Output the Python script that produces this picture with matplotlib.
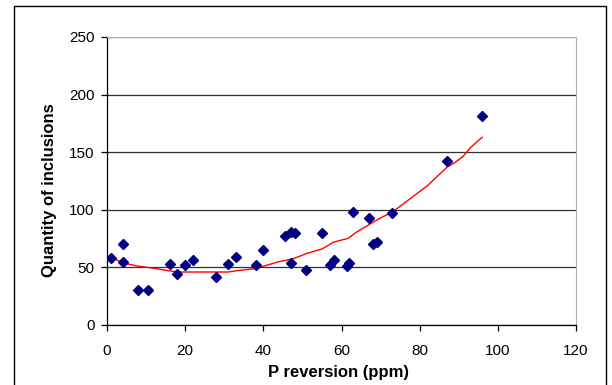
import matplotlib.pyplot as plt
from matplotlib.patches import Rectangle

plt.rcParams['font.family'] = ['Liberation Sans', 'DejaVu Sans']

# measured samples
p_rev = [1, 4, 4, 8, 10.5, 16, 18, 20, 22, 28, 31, 33, 38, 40, 45.5, 47, 48,
         47, 51, 55, 57, 58, 61.5, 62, 63, 67, 68, 69, 73, 87, 96]
inclusions = [58, 70, 55, 30, 30, 53, 44, 52, 56, 42, 53, 59, 52, 65, 77, 81, 80,
              54, 48, 80, 52, 56, 51, 54, 98, 93, 70, 72, 97, 142, 181]

# trend curve
trend_x = [1.5, 4, 8, 10.5, 16, 18, 20, 22, 28, 31, 33, 38, 40, 44, 47, 48, 51,
           55, 57, 58, 61.5, 62, 64, 67.5, 70, 73, 77.7, 82, 87, 89, 91, 93, 96]
trend_y = [58, 54, 51, 50, 47, 46, 46, 46, 46, 46, 47, 49, 51, 55, 57, 58, 62,
           66, 70, 72, 75, 76, 81, 88, 93, 98, 110, 121, 137, 141, 146, 154, 163]

fig = plt.figure(figsize=(6.12, 3.85), dpi=100)
fig.patches.append(Rectangle((14 / 612, -0.05), 592 / 612, 1.05 - 6 / 385,
                             transform=fig.transFigure, fill=False,
                             edgecolor='black', linewidth=1.0))

ax = fig.add_axes([107 / 612, 1 - 325 / 385, 469 / 612, 288 / 385])
ax.plot(trend_x, trend_y, color='#ff0000', linewidth=1.0, zorder=3)
ax.plot(p_rev, inclusions, linestyle='none', marker='D', markersize=5.2,
        color='#000080', zorder=4)

ax.set_xlim(0, 120)
ax.set_ylim(0, 250)
ax.set_xticks(range(0, 121, 20))
ax.set_yticks(range(0, 251, 50))
ax.yaxis.grid(True, color='#303030', linewidth=0.9)
ax.set_axisbelow(True)

ax.spines['top'].set_color('#b0b0b0')
ax.spines['right'].set_color('#b0b0b0')
ax.spines['left'].set_linewidth(0.9)
ax.spines['bottom'].set_linewidth(0.9)
ax.tick_params(direction='out', length=4, width=0.9, labelsize=11)
ax.tick_params(axis='x', pad=10)
ax.tick_params(axis='y', pad=5)

fig.text(338 / 612, 1 - 372 / 385, 'P reversion (ppm)', fontsize=12,
         fontweight='bold', ha='center', va='center')
fig.text(50 / 612, 1 - 190 / 385, 'Quantity of inclusions', fontsize=12,
         fontweight='bold', rotation=90, ha='center', va='center')

fig.savefig('out.png', dpi=100)
